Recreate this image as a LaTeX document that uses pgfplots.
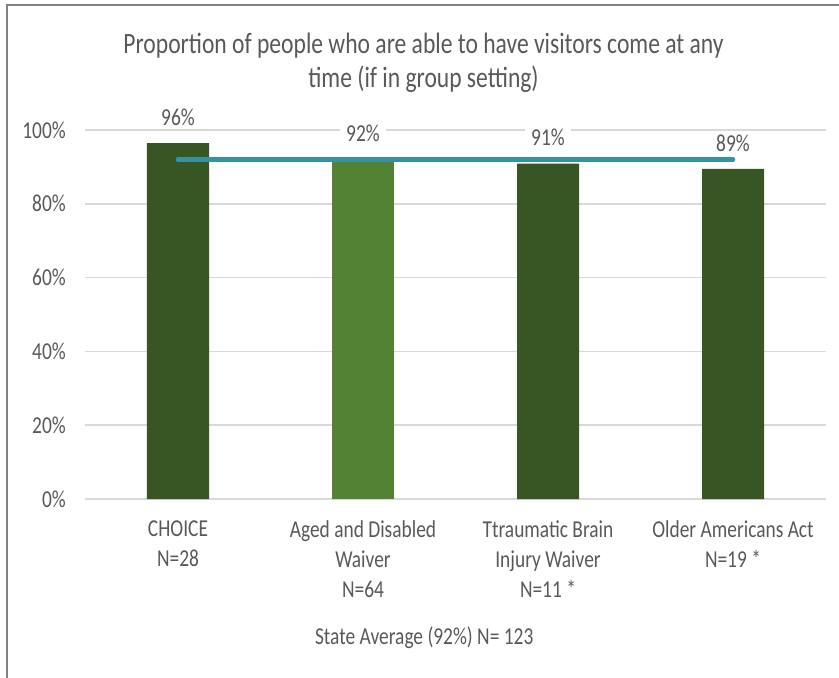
\documentclass[border=0pt]{standalone}
\usepackage{pgfplots}
\pgfplotsset{compat=1.18}
\usepackage{fontspec}
\setmainfont{Carlito}[FakeStretch=0.8]
\definecolor{txt}{HTML}{595959}
\definecolor{darkg}{HTML}{375623}
\definecolor{lightg}{HTML}{548235}
\definecolor{avgc}{HTML}{34939E}
\definecolor{gridc}{HTML}{D9D9D9}
\begin{document}
\begin{tikzpicture}
\begin{axis}[
  at={(0,0)}, anchor=south west,
  scale only axis, width=555pt, height=276.75pt,
  xmin=-0.5, xmax=3.5, ymin=0, ymax=100,
  axis line style={draw=none},
  xtick={0,1,2,3},
  xticklabels={{CHOICE\\N=28},{Aged and Disabled\\Waiver\\N=64},{Ttraumatic Brain\\Injury Waiver\\N=11 *},{Older Americans Act\\N=19 *}},
  ytick={0,20,40,60,80,100},
  yticklabel={\pgfmathprintnumber{\tick}\%},
  /pgf/number format/assume math mode=true,
  major tick length=0pt,
  ymajorgrids, major grid style={gridc, line width=1.1pt},
  xticklabel style={anchor=north, align=center, inner sep=0pt, yshift=-16pt, text=txt, font=\fontsize{18.2}{22.5}\selectfont},
  yticklabel style={anchor=east, inner sep=0pt, xshift=-14.6pt, text=txt, font=\fontsize{18.2}{19.5}\selectfont},
  bar width=46.5pt,
  clip=false,
]
\addplot[ybar, bar shift=0pt, fill=darkg, draw=none,
  nodes near coords={\pgfmathprintnumber[fixed,precision=0]{\pgfplotspointmeta}\%},
  every node near coord/.style={anchor=south, fill=white, inner xsep=5pt, inner ysep=2pt, yshift=11pt, text=txt, font=\fontsize{18.2}{19.5}\selectfont}]
  coordinates {(0,96.43) (2,90.91) (3,89.47)};
\addplot[ybar, bar shift=0pt, fill=lightg, draw=none,
  nodes near coords={\pgfmathprintnumber[fixed,precision=0]{\pgfplotspointmeta}\%},
  every node near coord/.style={anchor=south, fill=white, inner xsep=5pt, inner ysep=2pt, yshift=11pt, text=txt, font=\fontsize{18.2}{19.5}\selectfont}]
  coordinates {(1,92.19)};
\addplot[sharp plot, avgc, line width=3.4pt, line cap=round, mark=none] coordinates {(0,92.0) (3,92.0)};
\end{axis}
\node[text=txt, align=center, font=\fontsize{22.1}{25.5}\selectfont] at (253.5pt,327pt) {Proportion of people who are able to have visitors come at any\\time (if in group setting)};
\node[text=txt, font=\fontsize{18.2}{19.5}\selectfont] at (254pt,-104.25pt) {State Average (92\%) N= 123};
\draw[black!50, line width=1.1pt] (-58.875pt,-134.25pt) -- (-58.875pt,370.5pt) -- (565.125pt,370.5pt);
\pgfresetboundingbox
\path (-64.125pt,-134.25pt) rectangle (565.125pt,374.25pt);
\end{tikzpicture}
\end{document}
